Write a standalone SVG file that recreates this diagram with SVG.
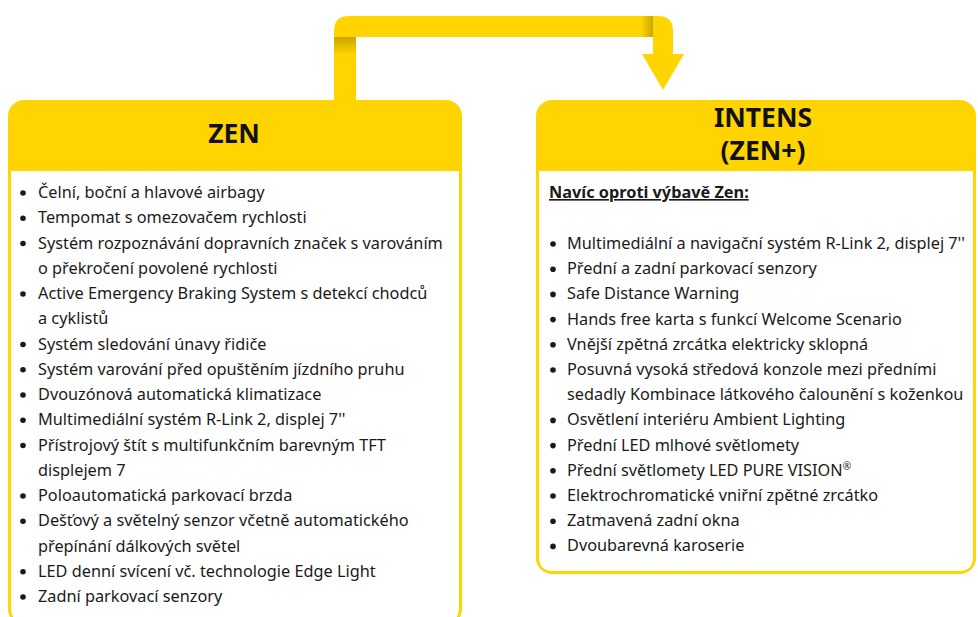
<svg xmlns="http://www.w3.org/2000/svg" width="978" height="617" viewBox="0 0 978 617">
<style>
.y{fill:#FFD400}
.w{fill:#FFFFFF}
.h{font-family:"Noto Sans","Liberation Sans",sans-serif;font-weight:700;font-size:26.5px;fill:#111;text-anchor:middle}
.t{font-family:"Noto Sans","Liberation Sans",sans-serif;font-size:16.3px;fill:#1a1a1a}
.b{fill:#1a1a1a}
.u{font-family:"Noto Sans","Liberation Sans",sans-serif;font-size:16.3px;font-weight:700;fill:#1a1a1a;text-decoration:underline}
</style>
<defs>
<linearGradient id="gv" x1="0" y1="0" x2="0" y2="1">
<stop offset="0" stop-color="#C9A600"/><stop offset="1" stop-color="#FFD400"/>
</linearGradient>
<linearGradient id="gh" x1="0" y1="0" x2="1" y2="0">
<stop offset="0" stop-color="#FFD400"/><stop offset="1" stop-color="#C9A600"/>
</linearGradient>
</defs>
<g id="connectors">
<path class="y" d="M334,104 V31 Q334,16 349,16 H658 Q673,16 673,31 V54 H684 L663,90 L642,54 H653 V37 H356 V104 Z"/>
<rect x="334" y="37" width="22" height="18" fill="url(#gv)"/>
<rect x="641" y="16" width="12" height="21" fill="url(#gh)"/>
</g>
<g id="zen">
<rect class="y" x="8" y="100" width="454" height="525" rx="16"/>
<path class="w" d="M11,171 H459 V608 Q459,622 445,622 H25 Q11,622 11,608 Z"/>
<text class="h" x="234" y="143">ZEN</text>
<g class="b">
<circle cx="23" cy="193" r="2.8"/><circle cx="23" cy="218.25" r="2.8"/><circle cx="23" cy="243.5" r="2.8"/>
<circle cx="23" cy="294" r="2.8"/><circle cx="23" cy="344.5" r="2.8"/><circle cx="23" cy="369.75" r="2.8"/>
<circle cx="23" cy="395" r="2.8"/><circle cx="23" cy="420.25" r="2.8"/><circle cx="23" cy="445.5" r="2.8"/>
<circle cx="23" cy="496" r="2.8"/><circle cx="23" cy="521.25" r="2.8"/><circle cx="23" cy="571.75" r="2.8"/>
<circle cx="23" cy="597" r="2.8"/>
</g>
<text class="t" x="38" y="198">Čelní, boční a hlavové airbagy</text>
<text class="t" x="38" y="223.25">Tempomat s omezovačem rychlosti</text>
<text class="t" x="38" y="248.5">Systém rozpoznávání dopravních značek s varováním</text>
<text class="t" x="38" y="273.75">o překročení povolené rychlosti</text>
<text class="t" x="38" y="299">Active Emergency Braking System s detekcí chodců</text>
<text class="t" x="38" y="324.25">a cyklistů</text>
<text class="t" x="38" y="349.5">Systém sledování únavy řidiče</text>
<text class="t" x="38" y="374.75">Systém varování před opuštěním jízdního pruhu</text>
<text class="t" x="38" y="400">Dvouzónová automatická klimatizace</text>
<text class="t" x="38" y="425.25">Multimediální systém R-Link 2, displej 7''</text>
<text class="t" x="38" y="450.5">Přístrojový štít s multifunkčním barevným TFT</text>
<text class="t" x="38" y="475.75">displejem 7</text>
<text class="t" x="38" y="501">Poloautomatická parkovací brzda</text>
<text class="t" x="38" y="526.25">Dešťový a světelný senzor včetně automatického</text>
<text class="t" x="38" y="551.5">přepínání dálkových světel</text>
<text class="t" x="38" y="576.75">LED denní svícení vč. technologie Edge Light</text>
<text class="t" x="38" y="602">Zadní parkovací senzory</text>
</g>
<g id="intens">
<rect class="y" x="536" y="100" width="440" height="474" rx="16"/>
<path class="w" d="M539,171 H973 V557 Q973,571 959,571 H553 Q539,571 539,557 Z"/>
<text class="h" x="763" y="127">INTENS</text>
<text class="h" x="763" y="160">(ZEN+)</text>
<text class="u" x="549" y="198">Navíc oproti výbavě Zen:</text>
<g class="b">
<circle cx="553" cy="244" r="2.8"/><circle cx="553" cy="269.2" r="2.8"/><circle cx="553" cy="294.4" r="2.8"/>
<circle cx="553" cy="319.6" r="2.8"/><circle cx="553" cy="344.8" r="2.8"/><circle cx="553" cy="370" r="2.8"/>
<circle cx="553" cy="420.4" r="2.8"/><circle cx="553" cy="445.6" r="2.8"/><circle cx="553" cy="470.8" r="2.8"/>
<circle cx="553" cy="496" r="2.8"/><circle cx="553" cy="521.2" r="2.8"/><circle cx="553" cy="546.4" r="2.8"/>
</g>
<text class="t" x="567" y="249">Multimediální a navigační systém R-Link 2, displej 7''</text>
<text class="t" x="567" y="274.2">Přední a zadní parkovací senzory</text>
<text class="t" x="567" y="299.4">Safe Distance Warning</text>
<text class="t" x="567" y="324.6">Hands free karta s funkcí Welcome Scenario</text>
<text class="t" x="567" y="349.8">Vnější zpětná zrcátka elektricky sklopná</text>
<text class="t" x="567" y="375">Posuvná vysoká středová konzole mezi předními</text>
<text class="t" x="567" y="400.2">sedadly Kombinace látkového čalounění s koženkou</text>
<text class="t" x="567" y="425.4">Osvětlení interiéru Ambient Lighting</text>
<text class="t" x="567" y="450.6">Přední LED mlhové světlomety</text>
<text class="t" x="567" y="475.8">Přední světlomety LED PURE VISION<tspan font-size="10" dy="-6">®</tspan></text>
<text class="t" x="567" y="501">Elektrochromatické vniřní zpětné zrcátko</text>
<text class="t" x="567" y="526.2">Zatmavená zadní okna</text>
<text class="t" x="567" y="551.4">Dvoubarevná karoserie</text>
</g>
</svg>
